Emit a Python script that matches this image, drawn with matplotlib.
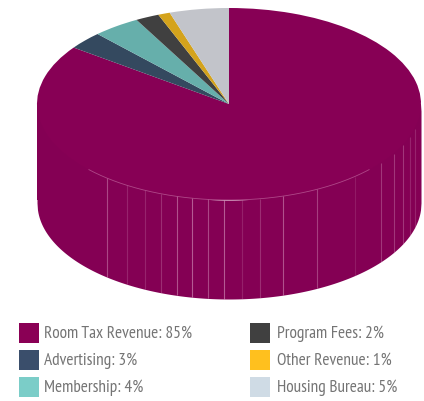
import numpy as np
import matplotlib
matplotlib.use("Agg")
import matplotlib.pyplot as plt
from matplotlib.patches import Rectangle
from matplotlib import font_manager as fm

categories = ["Room Tax Revenue", "Advertising", "Membership", "Program Fees", "Other Revenue", "Housing Bureau"]
shares = [85, 3, 4, 2, 1, 5]
top_colors = ["#870055", "#34495F", "#66AFAB", "#404040", "#D4A31C", "#C2C4CA"]
legend_colors = ["#8A0055", "#3A4E6B", "#7BCDC8", "#404040", "#FFC01E", "#CFDBE5"]

W, H = 424, 401
CX, CY, RX, RY, DEPTH = 229, 104, 192, 96, 99

# pixel columns of the faint facet seams on the cylinder wall, with their strength
seam_px = [107, 127, 144, 160, 176, 191, 207, 223, 241, 259, 282, 316, 354, 380, 393, 402, 409, 414]
seam_alpha = [.4, .2, .2, .25, .45, .5, .4, .5, .18, .25, .45, .35, .15, .3, .3, .3, .2, .2]

fig = plt.figure(figsize=(W / 100, H / 100), dpi=100)
ax = fig.add_axes([0, 0, 1, 1])
wedges, _ = ax.pie(shares, colors=top_colors, startangle=90, counterclock=False, radius=1,
                   wedgeprops=dict(linewidth=0))
for w in wedges:
    w.set_zorder(5)
ax.set_aspect("auto")
ax.set_xlim(-CX / RX, (W - CX) / RX)
ax.set_ylim((CY - H) / RY, CY / RY)
ax.axis("off")

d = DEPTH / RY
xs = np.linspace(-1, 1, 800)
front = -np.sqrt(1 - xs ** 2)
ax.fill_between(xs, front, front - d, color="#840054", lw=0, zorder=2)
ax.fill_between([-1, 1], [0, 0], [-1, -1], color="#840054", lw=0, zorder=1)

for px, a in zip(seam_px, seam_alpha):
    sx = (px + .5 - CX) / RX
    sy = -np.sqrt(1 - sx ** 2)
    ax.plot([sx, sx], [sy, sy - d], color="#E7B4D2", lw=0.8, alpha=a, zorder=3,
            solid_capstyle="butt")

rim = (np.abs(xs) < 0.73)
ax.plot(xs[rim], front[rim], color="#D98FBC", lw=0.6, alpha=.5, zorder=6)

# Use a condensed face where one is present; otherwise a named family sized to the same width.
fams = {f.name for f in fm.fontManager.ttflist}
fam, fsize = "Liberation Sans", 9.4
for candidate, size in [("PT Sans Narrow", 12.4), ("Archivo Narrow", 11.5), ("Roboto Condensed", 11.0)]:
    if candidate in fams:
        fam, fsize = candidate, size
        break

slots = [(19, 44, 323), (19, 44, 350), (19, 44, 377), (250, 277, 323), (250, 277, 350), (250, 277, 377)]
for name, val, col, (sx, tx, sy) in zip(categories, shares, legend_colors, slots):
    fig.add_artist(Rectangle((sx / W, 1 - (sy + 20) / H), 20 / W, 20 / H, transform=fig.transFigure,
                             facecolor=col, edgecolor="none"))
    fig.text(tx / W, 1 - (sy + 10.5) / H, f"{name}: {val}%", family=fam, fontsize=fsize,
             color="#747474", ha="left", va="center")

fig.savefig("out.png", dpi=100)
